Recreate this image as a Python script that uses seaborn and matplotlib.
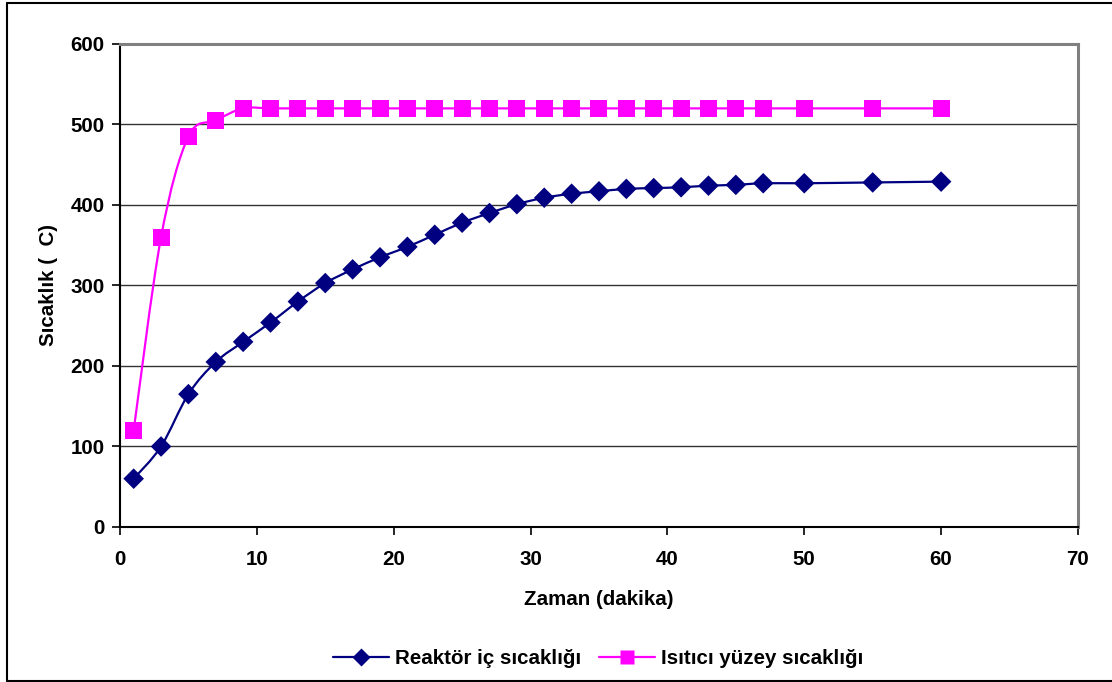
import matplotlib
matplotlib.use("Agg")
import matplotlib.pyplot as plt
from matplotlib.path import Path
from matplotlib.patches import PathPatch
from matplotlib.lines import Line2D
import numpy as np
import pandas as pd
import seaborn as sns

# data
zaman = [1, 3, 5, 7, 9, 11, 13, 15, 17, 19, 21, 23, 25, 27, 29, 31, 33, 35,
         37, 39, 41, 43, 45, 47, 50, 55, 60]
reaktor = [60, 100, 165, 205, 230, 254, 280, 303, 320, 335, 348, 363, 378, 390,
           401, 409, 414, 417, 420, 421, 422, 424, 425, 427, 427, 428, 429]
isitici = [120, 360, 485, 505, 520, 520, 520, 520, 520, 520, 520, 520, 520, 520,
           520, 520, 520, 520, 520, 520, 520, 520, 520, 520, 520, 520, 520]

navy = "#000080"
pink = "#FF00FF"

sns.set_theme(style="white")
plt.rcParams['font.family'] = ['Liberation Sans', 'DejaVu Sans']
plt.rcParams['font.weight'] = 'bold'
for k in ['text.color', 'axes.labelcolor', 'xtick.color', 'ytick.color']:
    plt.rcParams[k] = 'black'
fs = 14.8

df = pd.DataFrame({"Zaman": zaman, "Reaktor": reaktor, "Isitici": isitici})


def smooth_path(xs, ys):
    # excel-like smoothed line: bezier segments through every point
    pts = np.column_stack([xs, ys]).astype(float)
    n = len(pts)
    verts = [pts[0]]
    codes = [Path.MOVETO]
    for i in range(n - 1):
        p0 = pts[i - 1] if i > 0 else pts[i]
        p1 = pts[i]
        p2 = pts[i + 1]
        p3 = pts[i + 2] if i + 2 < n else pts[i + 1]
        c1 = p1 + (p2 - p0) / 6.0
        c2 = p2 - (p3 - p1) / 6.0
        verts += [c1, c2, p2]
        codes += [Path.CURVE4] * 3
    return Path(verts, codes)


fig = plt.figure(figsize=(11.12, 6.82), dpi=100)
ax = fig.add_axes([0.1079, 0.2273, 0.8615, 0.7082])

for y in range(100, 601, 100):
    ax.axhline(y, color="#808080" if y == 600 else "#333333", lw=1.0, zorder=0)

ax.add_patch(PathPatch(smooth_path(zaman, isitici), fc="none", ec=pink, lw=1.6, zorder=2))
ax.add_patch(PathPatch(smooth_path(zaman, reaktor), fc="none", ec=navy, lw=1.6, zorder=2))

sns.scatterplot(data=df, x="Zaman", y="Isitici", marker="s", s=150, color=pink,
                edgecolor="none", ax=ax, zorder=3)
sns.scatterplot(data=df, x="Zaman", y="Reaktor", marker="D", s=110, color=navy,
                edgecolor="none", ax=ax, zorder=3)

ax.set_xlim(0, 70)
ax.set_ylim(0, 600)
ax.set_xticks(range(0, 71, 10))
ax.set_yticks(range(0, 601, 100))
ax.tick_params(axis="both", length=6, width=1.2, color="black",
               direction="out", bottom=True, left=True, pad=5)
ax.tick_params(axis="x", pad=10.5)
ax.set_xticklabels([str(v) for v in range(0, 71, 10)], fontsize=fs, fontweight="bold")
ax.set_yticklabels([str(v) for v in range(0, 601, 100)], fontsize=fs, fontweight="bold")

ax.set_xlabel("Zaman (dakika)", fontsize=fs, fontweight="bold", labelpad=15)
ax.set_ylabel("Sıcaklık (  C)", fontsize=fs, fontweight="bold", labelpad=9)

for side in ["top", "right"]:
    ax.spines[side].set_color("#808080")
    ax.spines[side].set_linewidth(2.2)
for side in ["left", "bottom"]:
    ax.spines[side].set_color("black")
    ax.spines[side].set_linewidth(1.5)

handles = [
    Line2D([], [], color=navy, lw=1.6, marker="D", markersize=9, markeredgecolor="none"),
    Line2D([], [], color=pink, lw=1.6, marker="s", markersize=10, markeredgecolor="none"),
]
fig.legend(handles, ["Reaktör iç sıcaklığı", "Isıtıcı yüzey sıcaklığı"],
           loc="center", bbox_to_anchor=(0.538, 0.034), ncol=2, frameon=False,
           prop={"family": "Liberation Sans", "size": fs, "weight": "bold"},
           handlelength=2.7, columnspacing=0.9, handletextpad=0.3)

# outer chart frame (right edge falls outside the picture)
W, H = 1112, 682
frame = [((7, 3), (1112, 3)), ((7, 3), (7, 681)), ((7, 681), (1112, 681))]
for (x0, y0), (x1, y1) in frame:
    fig.add_artist(Line2D([x0 / W, x1 / W], [1 - y0 / H, 1 - y1 / H],
                          transform=fig.transFigure, color="black", lw=1.5))

fig.savefig("out.png", dpi=100)
